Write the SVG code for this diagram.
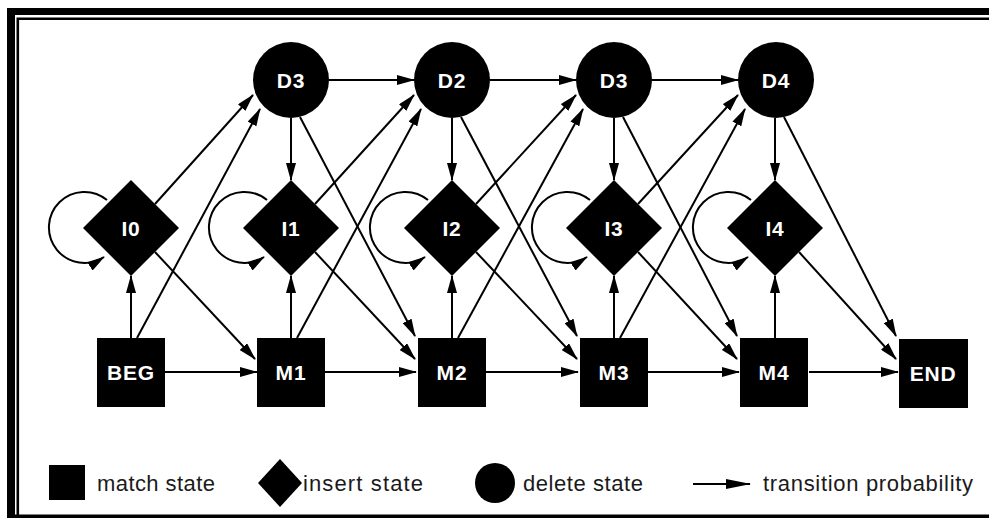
<svg xmlns="http://www.w3.org/2000/svg" width="989" height="518" viewBox="0 0 989 518">
<defs>
<marker id="ah" markerWidth="18" markerHeight="10" refX="17" refY="5" orient="auto" markerUnits="userSpaceOnUse"><path d="M0,0 L18,5 L0,10 Z" fill="#000"/></marker>
<marker id="ahL" markerWidth="25" markerHeight="10" refX="24" refY="5" orient="auto" markerUnits="userSpaceOnUse"><path d="M0,0 L25,5 L0,10 Z" fill="#000"/></marker>
</defs>
<style>
.c{stroke:#000;stroke-width:2;fill:none;marker-end:url(#ah)}
.n{fill:#000}
.lb{fill:#fff;font-family:"Liberation Sans",Arial,sans-serif;font-weight:bold;font-size:21px;text-anchor:middle;letter-spacing:0.8px}
.lg{fill:#1a1a1a;font-family:"Liberation Sans",Arial,sans-serif;font-size:22px}
</style>
<rect x="0" y="0" width="989" height="518" fill="#fff"/>
<g id="frame">
<path d="M7,518 V8 H989 V15 H15 V518 Z" fill="#000"/>
<path d="M17.8,518 V18.7 H989" fill="none" stroke="#000" stroke-width="2.6"/>
<rect x="7" y="514.5" width="982" height="3.5" fill="#000"/>
</g>
<g id="connectors">
<!-- D to D -->
<line class="c" x1="329" y1="80" x2="414" y2="80"/>
<line class="c" x1="490" y1="80" x2="576" y2="80"/>
<line class="c" x1="652" y1="80" x2="738" y2="80"/>
<!-- D to I -->
<line class="c" x1="291" y1="118" x2="291" y2="180"/>
<line class="c" x1="452" y1="118" x2="452" y2="180"/>
<line class="c" x1="614" y1="118" x2="614" y2="180"/>
<line class="c" x1="775" y1="118" x2="775" y2="180"/>
<!-- D to next M -->
<line class="c" x1="300" y1="117" x2="415" y2="336"/>
<line class="c" x1="461" y1="117" x2="577" y2="336"/>
<line class="c" x1="623" y1="117" x2="737" y2="336"/>
<line class="c" x1="784" y1="117" x2="896" y2="336"/>
<!-- M to M -->
<line class="c" x1="165" y1="372" x2="257" y2="372"/>
<line class="c" x1="325" y1="372" x2="416" y2="372"/>
<line class="c" x1="486" y1="372" x2="578" y2="372"/>
<line class="c" x1="648" y1="372" x2="739" y2="372"/>
<line class="c" x1="809" y1="372" x2="898" y2="372"/>
<!-- M to I -->
<line class="c" x1="131" y1="338" x2="131" y2="276"/>
<line class="c" x1="291" y1="338" x2="291" y2="276"/>
<line class="c" x1="452" y1="338" x2="452" y2="276"/>
<line class="c" x1="614" y1="338" x2="614" y2="276"/>
<line class="c" x1="775" y1="338" x2="775" y2="276"/>
<!-- M to next D -->
<line class="c" x1="137" y1="338" x2="260" y2="109"/>
<line class="c" x1="297" y1="338" x2="421" y2="109"/>
<line class="c" x1="458" y1="338" x2="583" y2="109"/>
<line class="c" x1="620" y1="338" x2="745" y2="109"/>
<!-- I to next D -->
<line class="c" x1="155" y1="204" x2="253" y2="95"/>
<line class="c" x1="315" y1="204" x2="414" y2="95"/>
<line class="c" x1="476" y1="204" x2="576" y2="95"/>
<line class="c" x1="638" y1="204" x2="738" y2="95"/>
<!-- I to next M -->
<line class="c" x1="155" y1="252" x2="255" y2="359"/>
<line class="c" x1="315" y1="252" x2="415" y2="359"/>
<line class="c" x1="476" y1="252" x2="577" y2="359"/>
<line class="c" x1="638" y1="252" x2="737" y2="359"/>
<line class="c" x1="799" y1="252" x2="896" y2="359"/>
<!-- I self loops -->
<path class="c" d="M107,200 A35.5 35.5 0 1 0 104,257"/>
<path class="c" d="M267,200 A35.5 35.5 0 1 0 264,257"/>
<path class="c" d="M428,200 A35.5 35.5 0 1 0 425,257"/>
<path class="c" d="M590,200 A35.5 35.5 0 1 0 587,257"/>
<path class="c" d="M751,200 A35.5 35.5 0 1 0 748,257"/>
</g>
<g id="D1"><circle class="n" cx="291" cy="80" r="38"/><text class="lb" x="291" y="88">D3</text></g>
<g id="D2"><circle class="n" cx="452" cy="80" r="38"/><text class="lb" x="452" y="88">D2</text></g>
<g id="D3"><circle class="n" cx="614" cy="80" r="38"/><text class="lb" x="614" y="88">D3</text></g>
<g id="D4"><circle class="n" cx="776" cy="80" r="38"/><text class="lb" x="776" y="88">D4</text></g>
<g id="I0"><path class="n" d="M131,180 L179,228 L131,276 L83,228 Z"/><text class="lb" x="131" y="236">I0</text></g>
<g id="I1"><path class="n" d="M291,180 L339,228 L291,276 L243,228 Z"/><text class="lb" x="291" y="236">I1</text></g>
<g id="I2"><path class="n" d="M452,180 L500,228 L452,276 L404,228 Z"/><text class="lb" x="452" y="236">I2</text></g>
<g id="I3"><path class="n" d="M614,180 L662,228 L614,276 L566,228 Z"/><text class="lb" x="614" y="236">I3</text></g>
<g id="I4"><path class="n" d="M775,180 L823,228 L775,276 L727,228 Z"/><text class="lb" x="775" y="236">I4</text></g>
<g id="BEG"><rect class="n" x="97" y="338" width="68" height="69"/><text class="lb" x="131" y="380">BEG</text></g>
<g id="M1"><rect class="n" x="257" y="338" width="68" height="69"/><text class="lb" x="291" y="380">M1</text></g>
<g id="M2"><rect class="n" x="418" y="338" width="68" height="69"/><text class="lb" x="452" y="380">M2</text></g>
<g id="M3"><rect class="n" x="580" y="338" width="68" height="69"/><text class="lb" x="614" y="380">M3</text></g>
<g id="M4"><rect class="n" x="740" y="338" width="68" height="69"/><text class="lb" x="774" y="380">M4</text></g>
<g id="END"><rect class="n" x="899" y="339" width="69" height="69"/><text class="lb" x="933" y="381">END</text></g>
<g id="legend">
<rect class="n" x="49" y="465" width="36" height="35"/>
<text class="lg" x="97" y="491" textLength="118" lengthAdjust="spacing">match state</text>
<path class="n" d="M280,459 L302,483 L280,507 L258,483 Z"/>
<text class="lg" x="303" y="491" textLength="120" lengthAdjust="spacing">insert state</text>
<circle class="n" cx="495" cy="483" r="20"/>
<text class="lg" x="523" y="491" textLength="120" lengthAdjust="spacing">delete state</text>
<line x1="693" y1="484" x2="750" y2="484" stroke="#000" stroke-width="2" marker-end="url(#ahL)"/>
<text class="lg" x="763" y="491" textLength="210" lengthAdjust="spacing">transition probability</text>
</g>
</svg>
